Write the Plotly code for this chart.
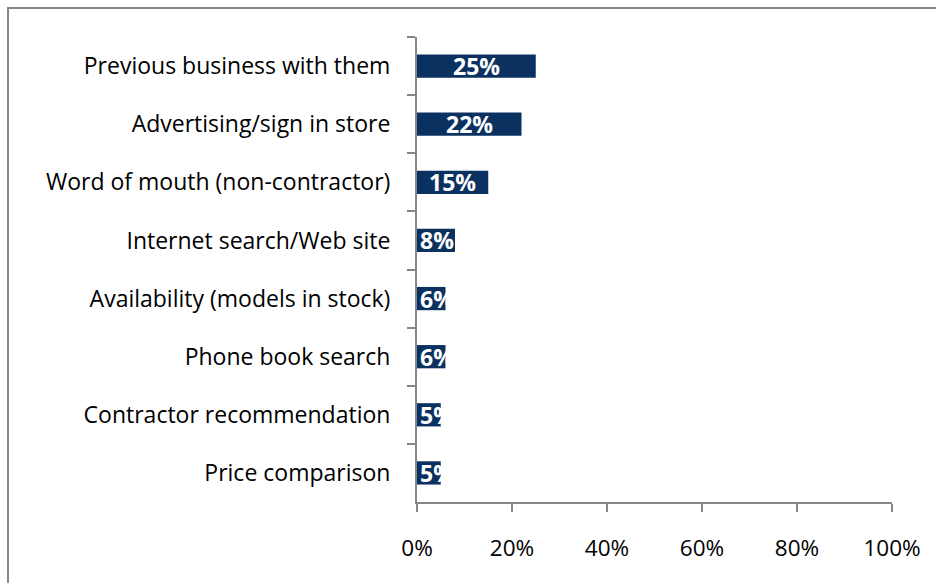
import plotly.graph_objects as go

# Survey responses: how buyers found the seller
categories = [
    "Previous business with them",
    "Advertising/sign in store",
    "Word of mouth (non-contractor)",
    "Internet search/Web site",
    "Availability (models in stock)",
    "Phone book search",
    "Contractor recommendation",
    "Price comparison",
]
shares = [25, 22, 15, 8, 6, 6, 5, 5]
x_ticks = [0, 20, 40, 60, 80, 100]

BAR_COLOR = "#0b3160"
AXIS_COLOR = "#868686"
FONT = "Open Sans"

W, H = 936, 583
L, R, T, B = 417, 44, 37, 81
pw, ph = W - L - R, H - T - B

fig = go.Figure()

fig.add_trace(go.Bar(
    y=categories,
    x=shares,
    orientation="h",
    width=0.4,
    marker=dict(color=BAR_COLOR, line=dict(width=0)),
    hoverinfo="skip",
))

# Value labels: centred in wide bars, pinned to the bar start in narrow ones
label_px = 48  # approximate rendered width of a bold "NN%" label
for cat, v in zip(categories, shares):
    bar_px = v / 100 * pw
    if bar_px > label_px + 8:
        x, anchor, shift = v / 2, "center", 0
    else:
        x, anchor, shift = 0, "left", 1
    fig.add_annotation(
        x=x, y=cat, xref="x", yref="y",
        text=f"<b>{v}%</b>",
        showarrow=False,
        xanchor=anchor, xshift=shift,
        yanchor="middle",
        font=dict(family=FONT, size=23, color="white"),
    )

# Outer chart frame (left and top edges visible, runs off right/bottom)
fig.add_shape(
    type="rect", xref="paper", yref="paper",
    x0=(8 - L) / pw, x1=(W + 20 - L) / pw,
    y0=-(H + 20 - T - ph) / ph, y1=(ph + T - 8) / ph,
    line=dict(color=AXIS_COLOR, width=2),
    fillcolor="rgba(0,0,0,0)",
    layer="below",
)

fig.update_layout(
    width=W, height=H,
    margin=dict(l=L, r=R, t=T, b=B),
    paper_bgcolor="white",
    plot_bgcolor="white",
    showlegend=False,
    font=dict(family=FONT, size=23, color="black"),
    bargap=0.6,
)

fig.update_xaxes(
    range=[0, 100],
    tickvals=x_ticks,
    ticktext=[f"{t}%" for t in x_ticks],
    showgrid=False,
    zeroline=False,
    showline=True,
    linecolor=AXIS_COLOR,
    linewidth=2,
    ticks="outside",
    ticklen=8,
    tickwidth=2,
    tickcolor=AXIS_COLOR,
    ticklabelstandoff=17,
    tickfont=dict(family=FONT, size=22.5, color="black"),
)

fig.update_yaxes(
    categoryorder="array",
    categoryarray=categories,
    autorange="reversed",
    showgrid=False,
    zeroline=False,
    showline=True,
    linecolor=AXIS_COLOR,
    linewidth=2,
    ticks="outside",
    tickson="boundaries",
    ticklen=8,
    tickwidth=2,
    tickcolor=AXIS_COLOR,
    ticklabelstandoff=20,
    tickfont=dict(family=FONT, size=23, color="black"),
)

fig.write_html("out.html")
